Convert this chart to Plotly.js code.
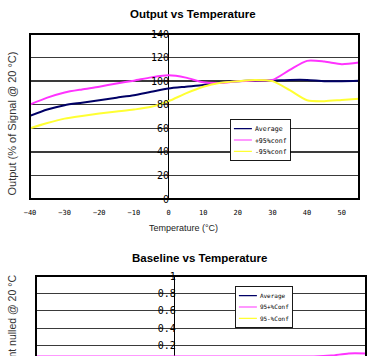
<!DOCTYPE html>
<html>
<head>
<meta charset="utf-8">
<script src="https://cdn.plot.ly/plotly-3.0.1.min.js"></script>
<style>
html,body{margin:0;padding:0;overflow:hidden;background:#fff;width:378px;height:356px;}
#chart{width:378px;height:420px;}
</style>
</head>
<body>
<div id="chart"></div>
<script>
// ---- data ----
const temps = [-40,-35,-30,-25,-20,-15,-10,-5,0,5,10,15,20,25,30,35,40,45,50,55];
const outAverage = [70.5,75.9,79.6,81.7,83.8,86,88.1,91,93.8,95.3,96.7,99,100,100.5,100.5,101,101,100,100,100.3];
const outPlus95  = [80.2,86,90.4,93,95.3,98,100.4,103.2,105,103,99,98.5,100,100.5,101,109.5,117.2,116.6,114.4,115.8];
const outMinus95 = [60,64.5,68.2,70.5,72.5,74.2,75.9,78.2,83,89.6,95.3,98.7,100,101,100,92.4,83.8,83,84,85];
const baseAverage = [0.03,0.03,0.03,0.03,0.03,0.03,0.03,0.03,0.03,0.03,0.03,0.03,0.03,0.03,0.03,0.03,0.03,0.035,0.04,0.04];
const basePlus95  = [0.075,0.075,0.075,0.075,0.075,0.075,0.075,0.075,0.075,0.075,0.075,0.075,0.075,0.075,0.075,0.075,0.075,0.085,0.11,0.11];
const baseMinus95 = [0.065,0.065,0.065,0.065,0.065,0.065,0.065,0.065,0.065,0.065,0.065,0.065,0.065,0.065,0.065,0.065,0.065,0.065,0.065,0.065];
const outNames  = ['Average','+95%conf','-95%conf'];
const baseNames = ['Average','95+%Conf','95-%Conf'];
const xTicks = [-40,-30,-20,-10,0,10,20,30,40,50];
const yTicksOut = [0,20,40,60,80,100,120,140];
const yTicksBase = [0.2,0.4,0.6,0.8,1];

const W = 378, H = 420;
const colors = ['#000066','#ff33ff','#ffff33'];
const mono = 'DejaVu Sans Mono, monospace';
const narrow = 'Liberation Sans Narrow, Arial Narrow, Liberation Sans, sans-serif';

function tr(y, name, i, xa, ya, leg){
  return {x: temps, y: y, name: name, xaxis: xa, yaxis: ya, legend: leg,
    type:'scatter', mode:'lines', line:{color:colors[i], width:2, shape:'spline', smoothing:0.7},
    hoverinfo:'skip'};
}
const data = [
  tr(outAverage, outNames[0], 0, 'x','y','legend'),
  tr(outPlus95,  outNames[1], 1, 'x','y','legend'),
  tr(outMinus95, outNames[2], 2, 'x','y','legend'),
  tr(baseAverage, baseNames[0], 0, 'x2','y2','legend2'),
  tr(basePlus95,  baseNames[1], 1, 'x2','y2','legend2'),
  tr(baseMinus95, baseNames[2], 2, 'x2','y2','legend2')
];

const px = v => v / W;
const py = v => 1 - v / H;

const layout = {
  width: W, height: H,
  margin:{l:0,r:0,t:0,b:0},
  paper_bgcolor:'#fff', plot_bgcolor:'#fff',
  showlegend:true,
  font:{family:'Liberation Sans, Arial, sans-serif', color:'#000'},
  xaxis:{domain:[px(30),px(359)], anchor:'y', range:[-40,55], tickvals:xTicks,
    showgrid:false, zeroline:true, zerolinecolor:'#000', zerolinewidth:1,
    showline:false, ticks:'', ticklabelstandoff:8, tickfont:{family:mono, size:7, color:'#000'}},
  yaxis:{domain:[py(199),py(34)], range:[0,140], tickvals:yTicksOut,
    anchor:'free', position:px(169), showgrid:true, gridcolor:'#3a3a3a', gridwidth:1.3,
    zeroline:false, showline:false, ticks:'', tickfont:{family:mono, size:10, color:'#000'}},
  xaxis2:{domain:[px(36),px(366)], anchor:'y2', range:[-40,55], tickvals:xTicks,
    showgrid:false, zeroline:true, zerolinecolor:'#000', zerolinewidth:1,
    showline:false, ticks:'', showticklabels:false},
  yaxis2:{domain:[py(363),py(276)], range:[0,1], tickvals:yTicksBase,
    anchor:'free', position:px(175.7), showgrid:true, gridcolor:'#3a3a3a', gridwidth:1.3,
    zeroline:false, showline:false, ticks:'', tickfont:{family:mono, size:10, color:'#000'}},
  legend:{x:px(230), y:py(119), xanchor:'left', yanchor:'top', bgcolor:'#fff',
    bordercolor:'#000', borderwidth:1.5, font:{family:mono, size:11, color:'#000'},
    itemwidth:30, tracegroupgap:0},
  legend2:{x:px(235), y:py(286), xanchor:'left', yanchor:'top', bgcolor:'#fff',
    bordercolor:'#000', borderwidth:1.5, font:{family:mono, size:10, color:'#000'},
    itemwidth:30, tracegroupgap:0},
  shapes:[
    {type:'rect', xref:'x domain', yref:'y domain', x0:0, x1:1, y0:0, y1:1, line:{color:'#000', width:2}, layer:'above'},
    {type:'rect', xref:'x2 domain', yref:'y2 domain', x0:0, x1:1, y0:0, y1:1, line:{color:'#000', width:2}, layer:'above'}
  ],
  annotations:[
    {text:'<b>Output vs Temperature</b>', xref:'paper', yref:'paper', x:px(193.5), y:py(14),
      xanchor:'center', yanchor:'middle', showarrow:false, font:{size:11.5, family:narrow}},
    {text:'Temperature (°C)', xref:'paper', yref:'paper', x:px(183), y:py(228),
      xanchor:'center', yanchor:'middle', showarrow:false, font:{size:9, color:'#222'}},
    {text:'Output (% of Signal @ 20 °C)', xref:'paper', yref:'paper', x:px(11), y:py(123.5),
      xanchor:'center', yanchor:'middle', textangle:-90, showarrow:false, font:{size:11, color:'#333'}},
    {text:'<b>Baseline vs Temperature</b>', xref:'paper', yref:'paper', x:px(199), y:py(258),
      xanchor:'center', yanchor:'middle', showarrow:false, font:{size:11.5, family:narrow}},
    {text:'Percent nulled @ 20 °C', xref:'paper', yref:'paper', x:px(12), y:py(330),
      xanchor:'center', yanchor:'middle', textangle:-90, showarrow:false, font:{size:10.5, color:'#333'}}
  ]
};

Plotly.newPlot('chart', data, layout, {displayModeBar:false, staticPlot:true}).then(function(gd){
  // shrink the legends to the compact size of the original chart
  gd.querySelectorAll('.infolayer > g').forEach(function(g){
    const c = g.getAttribute('class') || '';
    if (/^legend\d*$/.test(c)) {
      const t = g.getAttribute('transform') || '';
      g.setAttribute('transform', t + ' scale(0.6)');
    }
  });
});
</script>
</body>
</html>
